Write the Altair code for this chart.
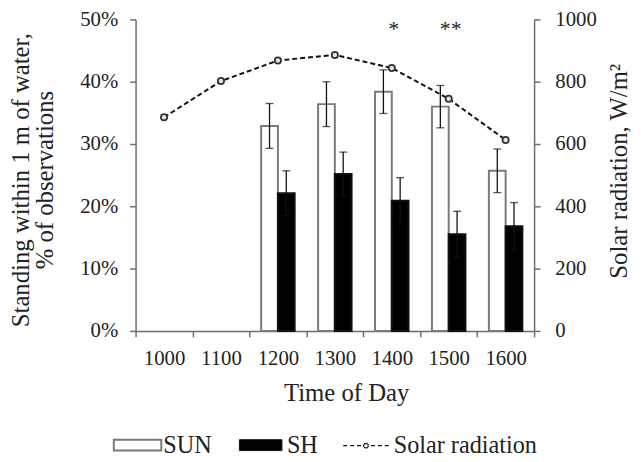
import altair as alt
import pandas as pd

# ---- data ----
times = ["1000", "1100", "1200", "1300", "1400", "1500", "1600"]
bar_times = ["1200", "1300", "1400", "1500", "1600"]
groups = ["SUN", "SH"]
sun_pct = [32.9, 36.4, 38.4, 36.0, 25.7]
sun_err = [3.6, 3.6, 3.5, 3.4, 3.5]
sh_pct = [22.1, 25.2, 20.9, 15.5, 16.8]
sh_err = [3.6, 3.5, 3.7, 3.7, 3.8]
solar = [686, 802, 868, 886, 844, 745, 613]
star_times = ["1400", "1500"]
star_labels = ["*", "**"]
left_ticks = [0, 0.1, 0.2, 0.3, 0.4, 0.5]
right_ticks = [0, 200, 400, 600, 800, 1000]

rows = []
for g, vals, errs in (("SUN", sun_pct, sun_err), ("SH", sh_pct, sh_err)):
    for t, v, e in zip(bar_times, vals, errs):
        rows.append({"time": t, "group": g, "value": v / 100,
                     "lo": (v - e) / 100, "hi": (v + e) / 100})
bars_df = pd.DataFrame(rows)
solar_df = pd.DataFrame({"time": times, "solar": solar})
star_df = pd.DataFrame({"time": star_times, "label": star_labels})

FONT = "Times New Roman, Liberation Serif, serif"
AX = "#6e6e6e"

xscale = alt.Scale(domain=times, paddingInner=0, paddingOuter=0)
xaxis = alt.Axis(title="Time of Day", labelAngle=0, tickBand="extent",
                 labelPadding=11, titleX=213, titleY=70, titleBaseline="alphabetic",
                 titleAlign="center")
X = alt.X("time:N", scale=xscale, axis=xaxis)

yscale = alt.Scale(domain=[0, 0.5])
yaxis = alt.Axis(values=left_ticks, format=".0%",
                 title=["Standing within 1 m of water,", "% of observations"],
                 labelPadding=12, titleLineHeight=24, titleX=-108, titleY=162,
                 titleAngle=270, titleBaseline="alphabetic", titleAlign="center")
offs = alt.XOffset("group:N", scale=alt.Scale(domain=groups, paddingOuter=0.7, paddingInner=0))

bars = alt.Chart(bars_df).mark_bar(strokeWidth=2).encode(
    x=X,
    xOffset=offs,
    y=alt.Y("value:Q", scale=yscale, axis=yaxis),
    fill=alt.Fill("group:N", scale=alt.Scale(domain=groups, range=["#ffffff", "#000000"]), legend=None),
    stroke=alt.Stroke("group:N", scale=alt.Scale(domain=groups, range=["#7a7a7a", "#111111"]), legend=None),
)
err_rule = alt.Chart(bars_df).mark_rule(color="#111", strokeWidth=1.3).encode(
    x=X, xOffset=offs,
    y=alt.Y("lo:Q", scale=yscale, axis=yaxis), y2="hi:Q",
)
cap_hi = alt.Chart(bars_df).mark_tick(color="#111", thickness=1.3, size=8).encode(
    x=X, xOffset=offs, y=alt.Y("hi:Q", scale=yscale, axis=yaxis),
)
cap_lo = alt.Chart(bars_df).mark_tick(color="#111", thickness=1.3, size=8).encode(
    x=X, xOffset=offs, y=alt.Y("lo:Q", scale=yscale, axis=yaxis),
)
stars = alt.Chart(star_df).mark_text(font=FONT, fontSize=22, baseline="alphabetic",
                                     color="#222", dx=2).encode(
    x=X, y=alt.datum(0.473), text="label:N",
)

# ---- manual legend (below the plot) ----
leg_df = pd.DataFrame({"k": [0]})
LEG_FS = 24.5
leg_sun_box = alt.Chart(leg_df).mark_rect(fill="#ffffff", stroke="#7a7a7a", strokeWidth=2).encode(
    x=alt.value(-22), x2=alt.value(26), y=alt.value(425), y2=alt.value(436))
leg_sun_txt = alt.Chart(leg_df).mark_text(font=FONT, fontSize=LEG_FS, align="left", baseline="alphabetic",
                                          color="#222").encode(
    x=alt.value(28), y=alt.value(438), text=alt.value("SUN"))
leg_sh_box = alt.Chart(leg_df).mark_rect(fill="#000000", stroke="#111", strokeWidth=1).encode(
    x=alt.value(105), x2=alt.value(148), y=alt.value(425), y2=alt.value(436))
leg_sh_txt = alt.Chart(leg_df).mark_text(font=FONT, fontSize=LEG_FS, align="left", baseline="alphabetic",
                                         color="#222").encode(
    x=alt.value(153), y=alt.value(438), text=alt.value("SH"))
leg_line = alt.Chart(leg_df).mark_rule(color="#111", strokeWidth=1.5, strokeDash=[4, 3]).encode(
    x=alt.value(210), x2=alt.value(256), y=alt.value(431))
leg_pt = alt.Chart(leg_df).mark_point(shape="circle", filled=True, fill="#ffffff", stroke="#222",
                                      strokeWidth=1.2, size=22, opacity=1).encode(
    x=alt.value(233), y=alt.value(431))
leg_solar_txt = alt.Chart(leg_df).mark_text(font=FONT, fontSize=LEG_FS, align="left", baseline="alphabetic",
                                            color="#222").encode(
    x=alt.value(261), y=alt.value(438), text=alt.value("Solar radiation"))

left_layer = alt.layer(bars, err_rule, cap_hi, cap_lo, stars,
                       leg_sun_box, leg_sun_txt, leg_sh_box, leg_sh_txt,
                       leg_line, leg_pt, leg_solar_txt)

ry_scale = alt.Scale(domain=[0, 1000])
ry_axis = alt.Axis(orient="right", values=right_ticks, format="d", title="Solar radiation, W/m²",
                   titleAngle=270, labelPadding=15, titleX=93, titleY=153,
                   titleBaseline="alphabetic", titleAlign="center")
line = alt.Chart(solar_df).mark_line(color="#111", strokeWidth=2, strokeDash=[5, 3]).encode(
    x=X, y=alt.Y("solar:Q", scale=ry_scale, axis=ry_axis),
)
pts = alt.Chart(solar_df).mark_point(shape="circle", filled=True, fill="#e2e2e2", stroke="#333",
                                     strokeWidth=1.8, size=40, opacity=1).encode(
    x=X, y=alt.Y("solar:Q", scale=ry_scale, axis=ry_axis),
)
right_layer = alt.layer(line, pts)

chart = alt.layer(left_layer, right_layer).resolve_scale(y="independent").properties(
    width=403, height=315,
    padding={"left": 129, "top": 9, "right": 100, "bottom": 128},
    autosize=alt.AutoSizeParams(type="none"),
    background="white",
).configure_view(stroke=None).configure_axis(
    grid=False,
    labelFont=FONT, labelFontSize=21, labelColor="#222",
    titleFont=FONT, titleFontSize=25, titleColor="#222", titleFontWeight="normal",
    domainColor=AX, domainWidth=1.5, tickColor=AX, tickWidth=1.5, tickSize=6,
)

chart.save("out.html", embed_options={"renderer": "svg", "actions": False})
